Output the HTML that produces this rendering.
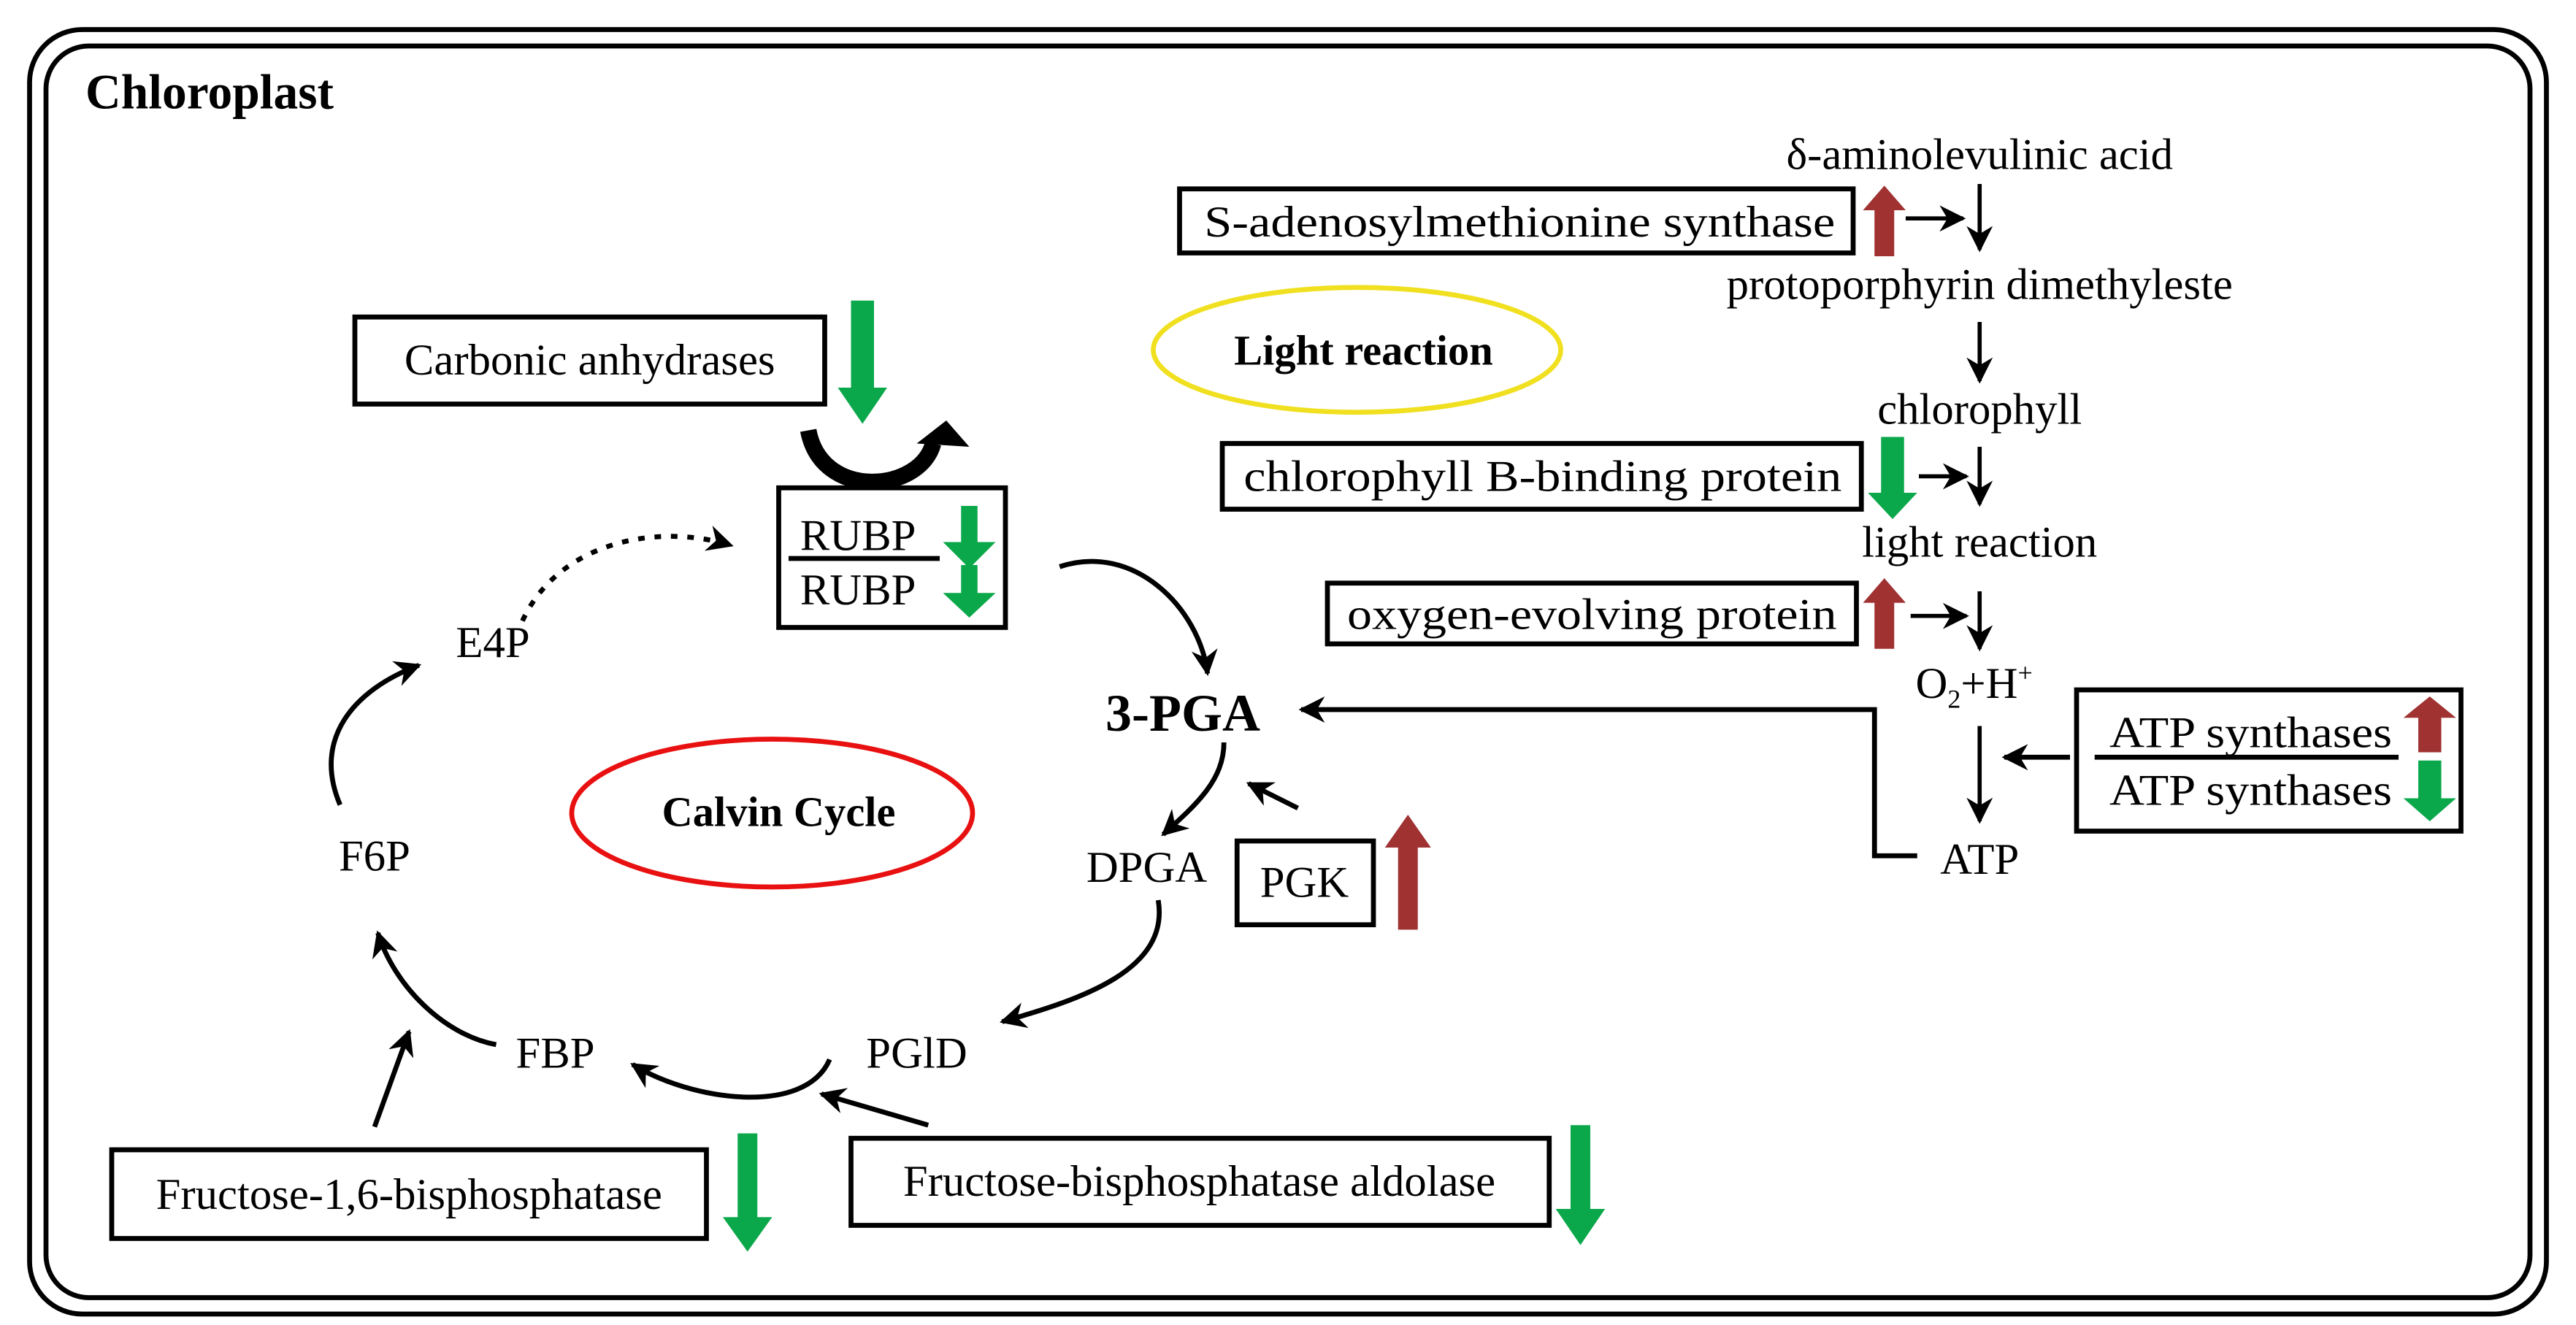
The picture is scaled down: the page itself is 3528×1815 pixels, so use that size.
<!DOCTYPE html>
<html><head><meta charset="utf-8"><style>html,body{margin:0;padding:0;background:#fff}svg{display:block}text{font-family:"Liberation Serif",serif;fill:#000}</style></head>
<body>
<svg width="3528" height="1815" viewBox="0 0 1568 806.67" xmlns="http://www.w3.org/2000/svg">
<defs>
<marker id="b" viewBox="0 0 10 10" refX="9" refY="5" markerWidth="16" markerHeight="16" orient="auto" markerUnits="userSpaceOnUse"><path d="M0,0 L10,5 L0,10 L3,5 z" fill="#000"/></marker>
</defs>
<rect x="18" y="18" width="1532" height="782" rx="32" fill="none" stroke="#000" stroke-width="3"/>
<rect x="28" y="28" width="1512" height="762" rx="26" fill="none" stroke="#000" stroke-width="3"/>
<text x="52" y="66" font-size="30" font-weight="bold">Chloroplast</text>

<!-- right chain -->
<text x="1205" y="103" font-size="27" text-anchor="middle">δ-aminolevulinic acid</text>
<rect x="718" y="115" width="410" height="39" fill="none" stroke="#000" stroke-width="3"/>
<text x="733" y="144" font-size="27" textLength="384" lengthAdjust="spacingAndGlyphs">S-adenosylmethionine synthase</text>
<path d="M1141,156 V128 H1134 L1147,113 L1160,128 H1153 V156 z" fill="#a03232"/>
<line x1="1160" y1="133" x2="1195" y2="133" stroke="#000" stroke-width="2.5" marker-end="url(#b)"/>
<line x1="1205" y1="112" x2="1205" y2="152" stroke="#000" stroke-width="2.5" marker-end="url(#b)"/>
<text x="1205" y="182" font-size="27" text-anchor="middle">protoporphyrin dimethyleste</text>
<line x1="1205" y1="196" x2="1205" y2="232" stroke="#000" stroke-width="2.5" marker-end="url(#b)"/>
<text x="1205" y="258" font-size="27" text-anchor="middle">chlorophyll</text>
<rect x="744" y="270" width="389" height="40" fill="none" stroke="#000" stroke-width="3"/>
<text x="757" y="299" font-size="27" textLength="364" lengthAdjust="spacingAndGlyphs">chlorophyll B-binding protein</text>
<path d="M1145,266 V300 H1137 L1152,316 L1167,300 H1159 V266 z" fill="#0aa84a"/>
<line x1="1168" y1="290" x2="1197" y2="290" stroke="#000" stroke-width="2.5" marker-end="url(#b)"/>
<line x1="1205" y1="272" x2="1205" y2="307" stroke="#000" stroke-width="2.5" marker-end="url(#b)"/>
<text x="1205" y="339" font-size="27" text-anchor="middle">light reaction</text>
<rect x="808" y="355" width="322" height="37" fill="none" stroke="#000" stroke-width="3"/>
<text x="820" y="383" font-size="27" textLength="298" lengthAdjust="spacingAndGlyphs">oxygen-evolving protein</text>
<path d="M1141,395 V367 H1134 L1147,352 L1160,367 H1153 V395 z" fill="#a03232"/>
<line x1="1163" y1="375" x2="1197" y2="375" stroke="#000" stroke-width="2.5" marker-end="url(#b)"/>
<line x1="1205" y1="360" x2="1205" y2="395" stroke="#000" stroke-width="2.5" marker-end="url(#b)"/>
<text x="1166" y="425" font-size="27">O<tspan font-size="16" dy="6">2</tspan><tspan dy="-6">+H</tspan><tspan font-size="16" dy="-10">+</tspan></text>
<line x1="1205" y1="442" x2="1205" y2="500" stroke="#000" stroke-width="2.5" marker-end="url(#b)"/>
<text x="1205" y="532" font-size="27" text-anchor="middle">ATP</text>
<rect x="1264" y="420" width="234" height="86" fill="none" stroke="#000" stroke-width="3"/>
<line x1="1275" y1="461" x2="1460" y2="461" stroke="#000" stroke-width="3"/>
<text x="1284" y="455" font-size="27" textLength="172" lengthAdjust="spacingAndGlyphs">ATP synthases</text>
<text x="1284" y="490" font-size="27" textLength="172" lengthAdjust="spacingAndGlyphs">ATP synthases</text>
<path d="M1472,458 V437 H1463 L1479,424 L1495,437 H1486 V458 z" fill="#a03232"/>
<path d="M1472,463 V486 H1463 L1479,500 L1495,486 H1486 V463 z" fill="#0aa84a"/>
<line x1="1260" y1="461" x2="1220" y2="461" stroke="#000" stroke-width="3" marker-end="url(#b)"/>
<polyline points="1167,521 1141,521 1141,432 792,432" fill="none" stroke="#000" stroke-width="3" marker-end="url(#b)"/>
<ellipse cx="826" cy="213" rx="124" ry="38" fill="none" stroke="#f0e020" stroke-width="3"/>
<text x="830" y="222" font-size="26" font-weight="bold" text-anchor="middle">Light reaction</text>

<!-- Calvin -->
<text x="720" y="445" font-size="32" font-weight="bold" text-anchor="middle">3-PGA</text>
<rect x="216" y="193" width="286" height="53" fill="none" stroke="#000" stroke-width="3"/>
<text x="359" y="228" font-size="27" text-anchor="middle">Carbonic anhydrases</text>
<path d="M518,183 V236 H510 L525,258 L540,236 H532 V183 z" fill="#0aa84a"/>
<path d="M492,262 C500,305 560,300 568,270" fill="none" stroke="#000" stroke-width="10"/>
<path d="M558,270 L576,256 L590,272 z" fill="#000"/>
<rect x="474" y="297" width="138" height="85" fill="none" stroke="#000" stroke-width="3"/>
<line x1="480" y1="340" x2="572" y2="340" stroke="#000" stroke-width="3"/>
<text x="487" y="335" font-size="27">RUBP</text>
<text x="487" y="368" font-size="27">RUBP</text>
<path d="M585,308 V330 H574 L590,346 L606,330 H595 V308 z" fill="#0aa84a"/>
<path d="M585,344 V361 H574 L590,376 L606,361 H595 V344 z" fill="#0aa84a"/>
<path d="M645,345 C690,330 730,370 735,410" fill="none" stroke="#000" stroke-width="3" marker-end="url(#b)"/>
<path d="M318,378 C340,330 400,318 445,332" fill="none" stroke="#000" stroke-width="3" stroke-dasharray="4,6" marker-end="url(#b)"/>
<text x="300" y="400" font-size="27" text-anchor="middle">E4P</text>
<path d="M207,490 C190,450 215,420 255,405" fill="none" stroke="#000" stroke-width="3" marker-end="url(#b)"/>
<text x="228" y="530" font-size="27" text-anchor="middle">F6P</text>
<ellipse cx="470" cy="495" rx="122" ry="45" fill="none" stroke="#e81010" stroke-width="3"/>
<text x="474" y="503" font-size="26" font-weight="bold" text-anchor="middle">Calvin Cycle</text>
<text x="698" y="537" font-size="27" text-anchor="middle">DPGA</text>
<rect x="753" y="512" width="83" height="51" fill="none" stroke="#000" stroke-width="3"/>
<text x="794" y="546" font-size="27" text-anchor="middle">PGK</text>
<path d="M851,566 V516 H843 L857,496 L871,516 H863 V566 z" fill="#a03232"/>
<path d="M745,452 C745,475 728,490 708,508" fill="none" stroke="#000" stroke-width="3" marker-end="url(#b)"/>
<line x1="790" y1="492" x2="760" y2="477" stroke="#000" stroke-width="3" marker-end="url(#b)"/>
<path d="M705,548 C712,590 660,608 610,622" fill="none" stroke="#000" stroke-width="3" marker-end="url(#b)"/>
<text x="558" y="650" font-size="27" text-anchor="middle">PGlD</text>
<text x="338" y="650" font-size="27" text-anchor="middle">FBP</text>
<path d="M505,645 C490,680 420,670 385,648" fill="none" stroke="#000" stroke-width="3" marker-end="url(#b)"/>
<line x1="565" y1="685" x2="500" y2="666" stroke="#000" stroke-width="3" marker-end="url(#b)"/>
<path d="M302,636 C270,630 240,600 230,568" fill="none" stroke="#000" stroke-width="3" marker-end="url(#b)"/>
<line x1="228" y1="686" x2="249" y2="628" stroke="#000" stroke-width="3" marker-end="url(#b)"/>
<rect x="68" y="700" width="362" height="54" fill="none" stroke="#000" stroke-width="3"/>
<text x="249" y="736" font-size="27" text-anchor="middle">Fructose-1,6-bisphosphatase</text>
<path d="M449,690 V741 H440 L455,762 L470,741 H461 V690 z" fill="#0aa84a"/>
<rect x="518" y="693" width="425" height="53" fill="none" stroke="#000" stroke-width="3"/>
<text x="730" y="728" font-size="27" text-anchor="middle">Fructose-bisphosphatase aldolase</text>
<path d="M956,685 V736 H947 L962,758 L977,736 H968 V685 z" fill="#0aa84a"/>
</svg>
</body></html>
